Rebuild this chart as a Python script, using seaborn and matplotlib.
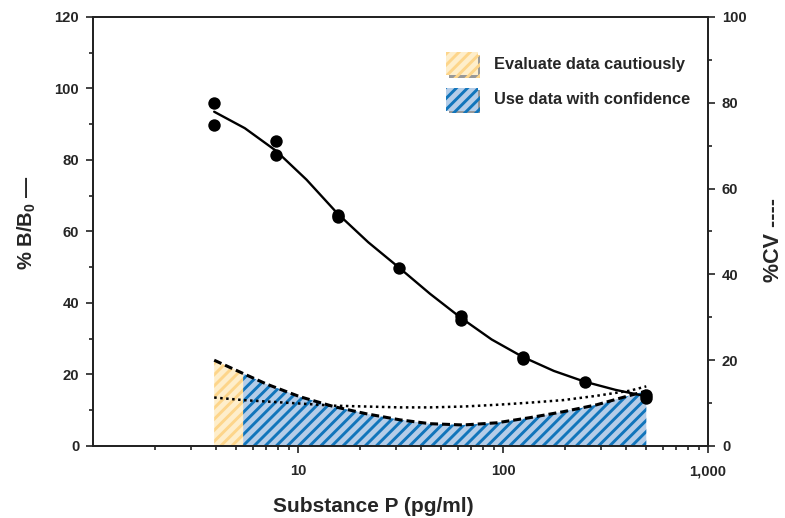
import matplotlib
matplotlib.use('Agg')
import matplotlib.pyplot as plt
import matplotlib.patheffects as pe
from matplotlib.patches import Patch
from matplotlib.ticker import NullFormatter
import seaborn as sns

# standards (pg/ml) and measured %B/B0 (duplicate wells)
conc = [3.9, 3.9, 7.8, 7.8, 15.6, 15.6, 31.25, 62.5, 62.5, 125, 125, 250, 500, 500]
bb0 = [96.0, 89.8, 85.3, 81.3, 64.5, 64.0, 49.8, 36.4, 35.2, 24.9, 24.3, 18.0, 14.3, 13.4]

# fitted standard curve
fit_conc = [3.9, 5.5, 7.8, 11, 15.6, 22, 31.25, 44, 62.5, 88, 125, 177, 250, 354, 500]
fit_bb0 = [93.5, 88.9, 82.6, 74.5, 65.0, 57.0, 49.8, 42.6, 35.8, 29.8, 24.9, 21.0, 18.0, 15.7, 13.9]

# %CV profile (dashed) -> upper edge of the shaded regions
cv_conc = [3.9, 5.4, 7.05, 10.2, 14.9, 21.6, 31.4, 44, 64, 93, 135, 197, 286, 417, 500]
cv = [20.0, 16.9, 14.4, 11.5, 9.2, 7.5, 6.1, 5.2, 4.9, 5.4, 6.6, 8.0, 9.6, 11.8, 12.8]

# dotted profile
dot_conc = [3.9, 5.4, 10.2, 14.9, 21.6, 31.4, 44, 64, 93, 135, 197, 286, 417, 500]
dot_cv = [11.3, 10.7, 9.9, 9.4, 9.2, 9.0, 9.0, 9.2, 9.6, 10.1, 10.7, 11.7, 12.9, 13.9]

cutoff = 5.4  # below this: evaluate data cautiously

yellow_face, yellow_hatch = '#feeecb', '#fdd58a'
blue_face, blue_hatch = '#b5cde8', '#1175bb'

sns.set_style('ticks')
plt.rcParams['font.family'] = ['Liberation Sans', 'DejaVu Sans']
plt.rcParams['font.weight'] = 'bold'
plt.rcParams['mathtext.fontset'] = 'custom'
plt.rcParams['mathtext.rm'] = 'Liberation Sans:bold'
plt.rcParams['mathtext.bf'] = 'Liberation Sans:bold'
plt.rcParams['hatch.linewidth'] = 2.1
plt.rcParams['axes.linewidth'] = 1.3
plt.rcParams['axes.edgecolor'] = '#222222'

fig = plt.figure(figsize=(7.85, 5.18), dpi=100)
ax = fig.add_axes([0.1185, 0.139, 0.7834, 0.8282])
ax2 = ax.twinx()

# shaded regions under the %CV curve
ax2.fill_between(cv_conc, 0, cv, where=[c <= cutoff for c in cv_conc],
                 facecolor=yellow_face, edgecolor=yellow_hatch, hatch='///', linewidth=0)
ax2.fill_between(cv_conc, 0, cv, where=[c >= cutoff for c in cv_conc],
                 facecolor=blue_face, edgecolor=blue_hatch, hatch='///', linewidth=0)

sns.lineplot(x=cv_conc, y=cv, ax=ax2, color='black', linewidth=2.2,
             linestyle=(0, (2.6, 1.3)))
sns.lineplot(x=dot_conc, y=dot_cv, ax=ax2, color='black', linewidth=1.8,
             linestyle=(0, (1, 1.4)))

sns.lineplot(x=fit_conc, y=fit_bb0, ax=ax, color='black', linewidth=1.7)
sns.scatterplot(x=conc, y=bb0, ax=ax, color='black', s=80, linewidth=0, zorder=5)

ax.set_zorder(ax2.get_zorder() + 1)
ax.patch.set_visible(False)

ax.set_xscale('log')
ax.set_xlim(1, 1000)
ax.set_ylim(0, 120)
ax2.set_ylim(0, 100)

ax.set_xticks([10, 100, 1000], ['10', '100', '1,000'])
ax.set_xticks([2, 3, 4, 5, 6, 7, 8, 9, 20, 30, 40, 50, 60, 70, 80, 90,
               200, 300, 400, 500, 600, 700, 800, 900], minor=True)
ax.xaxis.set_minor_formatter(NullFormatter())
ax.set_yticks(range(0, 121, 20))
ax.set_yticks(range(10, 120, 20), minor=True)
ax2.set_yticks(range(0, 101, 20))
ax2.set_yticks(range(10, 100, 20), minor=True)

for a in (ax, ax2):
    a.tick_params(which='major', direction='out', length=5, width=1.2,
                  color='#222222', labelsize=10.7)
    a.tick_params(which='minor', direction='out', length=3, width=1.2, color='#222222')
ax.tick_params(axis='x', which='both', pad=8)
ax.tick_params(axis='y', which='both', pad=5)
ax2.tick_params(axis='y', which='both', pad=5)

ax.set_xlabel('Substance P (pg/ml)', fontsize=15, fontweight='bold', labelpad=14)
ax.xaxis.label.set_x(0.455)
ax.set_ylabel('% B/B$_0$ —', fontsize=14.5, fontweight='bold', labelpad=12)
ax.yaxis.label.set_y(0.52)
ax2.set_ylabel('%CV ----', fontsize=15.5, fontweight='bold', labelpad=12)
ax2.yaxis.label.set_y(0.48)

shadow = [pe.SimplePatchShadow(offset=(2, -2), shadow_rgbFace='0.6', alpha=1), pe.Normal()]
handles = [
    Patch(facecolor=yellow_face, edgecolor=yellow_hatch, hatch='///', linewidth=0,
          path_effects=shadow, label='Evaluate data cautiously'),
    Patch(facecolor=blue_face, edgecolor=blue_hatch, hatch='///', linewidth=0,
          path_effects=shadow, label='Use data with confidence'),
]
ax.legend(handles=handles, loc='upper left', bbox_to_anchor=(0.574, 0.918),
          frameon=False, borderpad=0, borderaxespad=0,
          handlelength=1.93, handleheight=1.79, labelspacing=0.75, handletextpad=1.0,
          prop={'weight': 'bold', 'size': 11.8})

fig.savefig('out.png', dpi=100)
